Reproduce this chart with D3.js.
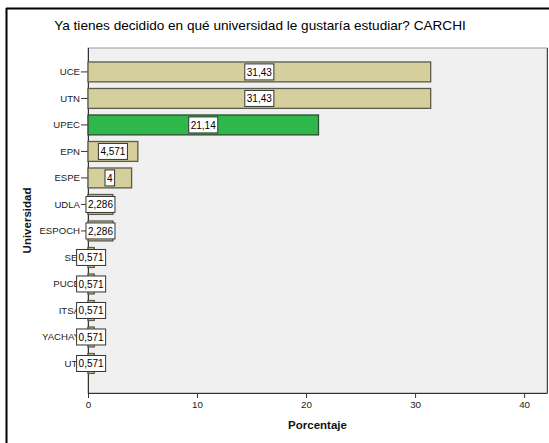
<!DOCTYPE html>
<html><head><meta charset="utf-8">
<script src="https://cdn.jsdelivr.net/npm/d3@7"></script>
<style>body{margin:0;background:#fff;}svg{display:block;}</style>
</head><body>
<svg id="c" width="549" height="443"></svg>
<script>
const categories = ["UCE","UTN","UPEC","EPN","ESPE","UDLA","ESPOCH","SEI","PUCE","ITSA","YACHAY","UTI"];
const values = [31.43,31.43,21.14,4.571,4,2.286,2.286,0.571,0.571,0.571,0.571,0.571];
const highlight = ["UPEC"];
const xTicks = [0,10,20,30,40];
const title = "Ya tienes decidido en qué universidad le gustaría estudiar? CARCHI";
const xTitle = "Porcentaje";
const yTitle = "Universidad";

const svg = d3.select("#c");
const font = "Liberation Sans, Arial, sans-serif";
const L = 88, R = 547, T = 48, B = 393;

// outer frame (left + top)
svg.append("line").attr("x1",6.5).attr("x2",6.5).attr("y1",8).attr("y2",443).attr("stroke","#000").attr("stroke-width",2);
svg.append("line").attr("x1",6).attr("x2",549).attr("y1",8.5).attr("y2",8.5).attr("stroke","#000").attr("stroke-width",2);

svg.append("text").attr("x",260).attr("y",29.5).attr("text-anchor","middle")
  .attr("font-family",font).attr("font-size",13.6).attr("fill","#000").text(title);

const x = d3.scaleLinear().domain([0,42.1]).range([L,R]);
const y = d3.scaleBand().domain(categories).range([58.8,376.6]).paddingInner(0.25).paddingOuter(0.12);

svg.append("rect").attr("x",L).attr("y",T).attr("width",R-L).attr("height",B-T)
  .attr("fill","#F0F0F0").attr("stroke","#9a9a9a").attr("stroke-width",1);
svg.append("line").attr("x1",R+0.5).attr("x2",R+0.5).attr("y1",T).attr("y2",B).attr("stroke","#444");

// y axis
const ya = svg.append("g").attr("transform",`translate(${L},0)`)
  .call(d3.axisLeft(y).tickSize(7).tickSizeOuter(0).tickPadding(1));
ya.select(".domain").remove();
ya.selectAll(".tick line").attr("stroke","#333");
ya.selectAll("text").attr("font-family",font).attr("font-size",9.6).attr("fill","#222");
svg.append("line").attr("x1",L+0.5).attr("x2",L+0.5).attr("y1",T).attr("y2",B).attr("stroke","#333");

// x axis
const xa = svg.append("g").attr("transform",`translate(0,${B})`)
  .call(d3.axisBottom(x).tickValues(xTicks).tickSize(5).tickPadding(3).tickSizeOuter(0));
xa.select(".domain").attr("stroke","#333");
xa.selectAll(".tick line").attr("stroke","#333");
xa.selectAll("text").attr("font-family",font).attr("font-size",9.8).attr("fill","#222");

const data = categories.map((c,i)=>({c, v: values[i]}));
const bars = svg.append("g");
bars.selectAll("rect").data(data).join("rect")
  .attr("x",x(0)).attr("y",d=>y(d.c)).attr("width",d=>x(d.v)-x(0)).attr("height",y.bandwidth())
  .attr("fill",d=>highlight.includes(d.c)?"#2EB84C":"#D4CF9C")
  .attr("stroke",d=>highlight.includes(d.c)?"#2f4a33":"#5b5a4c").attr("stroke-width",1.3);

const loc = d3.formatLocale({decimal:",",thousands:".",grouping:[3],currency:["",""]});
const fmt = loc.format(".4~g");
const lbl = svg.append("g");
data.forEach(d=>{
  const cx = (x(0)+x(d.v))/2, cy = y(d.c)+y.bandwidth()/2;
  const g = lbl.append("g");
  const t = g.append("text").attr("x",cx).attr("y",cy+3.6).attr("text-anchor","middle")
    .attr("font-family",font).attr("font-size",10).attr("fill","#000").text(fmt(d.v));
  const w = t.node().getComputedTextLength();
  g.insert("rect","text").attr("x",cx-w/2-2).attr("y",cy-8).attr("width",w+4).attr("height",16)
    .attr("fill","#fff").attr("stroke","#333").attr("stroke-width",1);
});

svg.append("text").attr("x",(L+R)/2).attr("y",429).attr("text-anchor","middle")
  .attr("font-family",font).attr("font-size",11.5).attr("font-weight","bold").attr("fill","#111").text(xTitle);
svg.append("text").attr("transform",`translate(31,${(T+B)/2}) rotate(-90)`).attr("text-anchor","middle")
  .attr("font-family",font).attr("font-size",11.5).attr("font-weight","bold").attr("fill","#111").text(yTitle);
</script>
</body></html>
